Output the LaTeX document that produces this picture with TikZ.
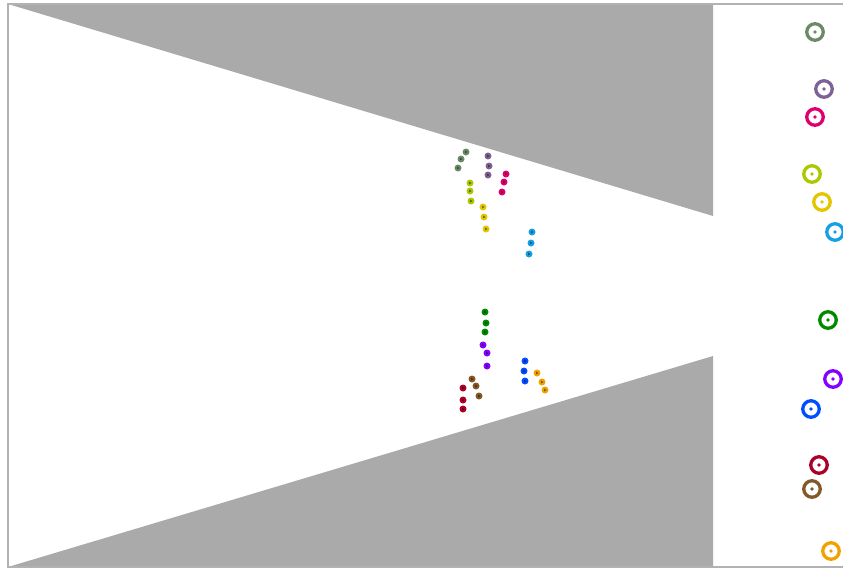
\documentclass[tikz,border=0pt]{standalone}
\usepackage{xcolor}
\definecolor{wallgray}{RGB}{170,170,170}
\definecolor{framegray}{RGB}{178,178,178}
\definecolor{sagegreen}{RGB}{108,138,104}
\definecolor{dustyviolet}{RGB}{126,98,150}
\definecolor{magentared}{RGB}{222,0,112}
\definecolor{limeyellow}{RGB}{172,200,0}
\definecolor{sunyellow}{RGB}{228,198,0}
\definecolor{skycyan}{RGB}{22,160,228}
\definecolor{leafgreen}{RGB}{0,138,0}
\definecolor{brightviolet}{RGB}{132,0,255}
\definecolor{royalblue}{RGB}{0,78,255}
\definecolor{crimson}{RGB}{172,0,40}
\definecolor{umber}{RGB}{132,88,40}
\definecolor{amber}{RGB}{242,162,0}

\begin{document}
\begin{tikzpicture}[x=1pt,y=-1pt,
    wall/.style={fill=wallgray,draw=none},
    frame/.style={draw=framegray,line width=1.6pt},
    ring/.style={circle,draw=#1,line width=3.3pt,minimum size=16.5pt,inner sep=0pt},
    dot/.style={circle,fill=#1,minimum size=7pt,inner sep=0pt}]

  \useasboundingbox (0,0) rectangle (843,568);

  % walls
  \fill[wall] (8,4) -- (713,4) -- (713,216) -- cycle;
  \fill[wall] (8,567) -- (713,356) -- (713,567) -- cycle;
  \draw[frame] (843,4) -- (8,4) -- (8,567) -- (843,567);

  % targets and their agents
  \foreach \c/\rp/\da/\db/\dc [count=\i] in {
      sagegreen/{815,32}/{466,152}/{461,159}/{458,168},
      dustyviolet/{824,89}/{488,156}/{489,166}/{488,175},
      magentared/{815,117}/{506,174}/{504,182}/{502,192},
      limeyellow/{812,174}/{470,183}/{470,191}/{471,201},
      sunyellow/{822,202}/{483,207}/{484,217}/{486,229},
      skycyan/{835,232}/{532,232}/{531,243}/{529,254},
      leafgreen/{828,320}/{485,312}/{486,323}/{485,332},
      brightviolet/{833,379}/{483,345}/{487,353}/{487,366},
      royalblue/{811,409}/{525,361}/{524,371}/{525,381},
      crimson/{819,465}/{463,388}/{463,400}/{463,409},
      umber/{812,489}/{472,379}/{476,386}/{479,396},
      amber/{831,551}/{537,373}/{542,382}/{545,390}} {
    \node[ring=\c] (goal\i) at (\rp) {};
    \fill[\c] (goal\i.center) circle (1.8);
    \foreach \p [count=\j] in {\da,\db,\dc} {
      \node[dot=\c] (agent\i-\j) at (\p) {};
      \fill[black,opacity=.45,shift={(agent\i-\j.center)}]
        (-1,-1.4) -- (1.7,0) -- (-1,1.4) -- cycle;
    }
  }

\end{tikzpicture}
\end{document}
